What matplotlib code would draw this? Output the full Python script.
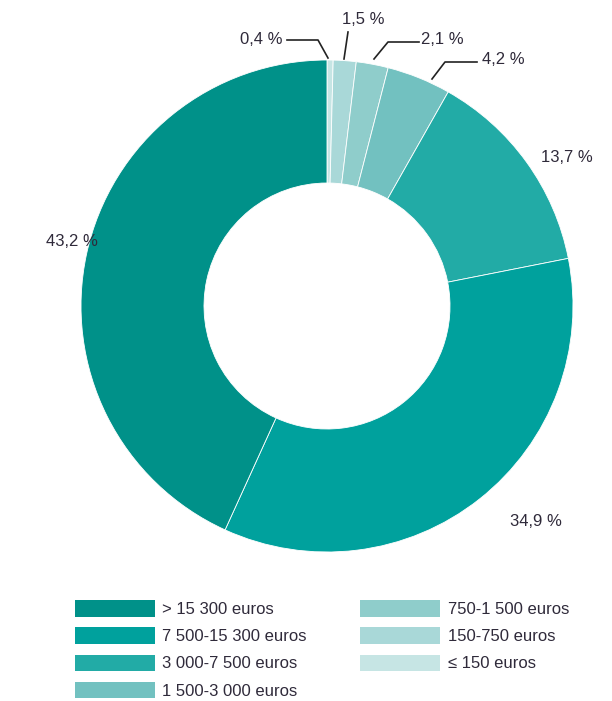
import matplotlib.pyplot as plt
from matplotlib.patches import Patch

labels = ["≤ 150 euros", "150-750 euros", "750-1 500 euros", "1 500-3 000 euros",
          "3 000-7 500 euros", "7 500-15 300 euros", "> 15 300 euros"]
shares = [0.4, 1.5, 2.1, 4.2, 13.7, 34.9, 43.2]
colors = ["#c6e5e4", "#a9d8d8", "#8fcdcb", "#72c1c0", "#22aba6", "#00a19d", "#009189"]
pct_text = ["0,4 %", "1,5 %", "2,1 %", "4,2 %", "13,7 %", "34,9 %", "43,2 %"]

legend_order = [6, 5, 4, 3, 2, 1, 0]

plt.rcParams["font.family"] = ["Liberation Sans", "DejaVu Sans"]
TXT = "#2f2a3a"

fig = plt.figure(figsize=(6.12, 7.01), dpi=100)
ax = fig.add_axes([0, 0, 1, 1])

cx, cy, r = 327, 395, 246
ax.pie(shares, colors=colors, startangle=90, counterclock=False,
       center=(cx, cy), radius=r, frame=True,
       wedgeprops=dict(width=r * 0.5, edgecolor="white", linewidth=0.6))
ax.set_xlim(0, 612)
ax.set_ylim(0, 701)
ax.set_aspect("equal")
ax.axis("off")

fs = 12
# big slices: plain labels
ax.text(46, 701 - 242, pct_text[6], fontsize=fs, color=TXT, ha="left", va="center")
ax.text(510, 701 - 521, pct_text[5], fontsize=fs, color=TXT, ha="left", va="center")
ax.text(541, 701 - 157, pct_text[4], fontsize=fs, color=TXT, ha="left", va="center")

# small slices with leader lines
lc = dict(color="#222222", lw=1.2)
ax.plot([287, 318, 328], [701 - 40, 701 - 40, 701 - 58], **lc)
ax.text(282, 701 - 40, pct_text[0], fontsize=fs, color=TXT, ha="right", va="center")

ax.plot([344, 348], [701 - 59, 701 - 32], **lc)
ax.text(342, 701 - 20, pct_text[1], fontsize=fs, color=TXT, ha="left", va="center")

ax.plot([374, 388, 419], [701 - 59, 701 - 42, 701 - 42], **lc)
ax.text(421, 701 - 40, pct_text[2], fontsize=fs, color=TXT, ha="left", va="center")

ax.plot([432, 445, 477], [701 - 79, 701 - 62, 701 - 62], **lc)
ax.text(482, 701 - 60, pct_text[3], fontsize=fs, color=TXT, ha="left", va="center")

handles = [Patch(facecolor=colors[i], edgecolor="none") for i in legend_order]
names = [labels[i] for i in legend_order]
leg = ax.legend(handles, names, ncol=2, loc="upper left",
                bbox_to_anchor=(75 / 612, 1 - 600 / 701), bbox_transform=fig.transFigure,
                frameon=False, fontsize=12, handlelength=4.8, handleheight=1.15,
                handletextpad=0.45, labelspacing=0.62, columnspacing=3.2,
                borderaxespad=0, borderpad=0)
for t in leg.get_texts():
    t.set_color(TXT)

fig.savefig("out.png", dpi=100)
